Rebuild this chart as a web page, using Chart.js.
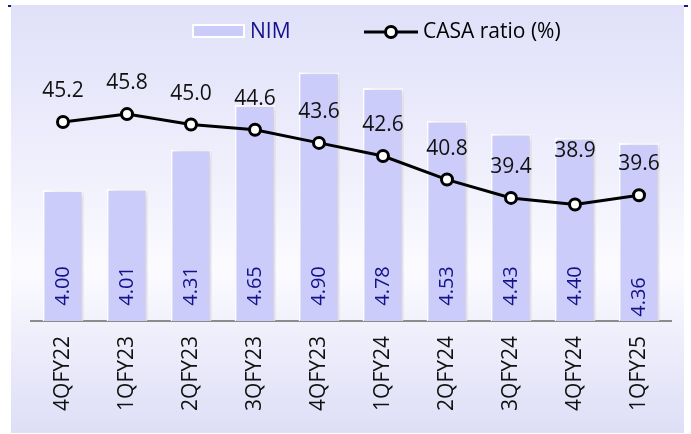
<!DOCTYPE html>
<html>
<head>
  <title>NIM and CASA ratio</title>
  <style>
    html, body {
      margin: 0;
      padding: 0;
      background: #fff;
    }
    #chart-container {
      width: 691px;
      height: 434px;
    }
  </style>
</head>
<body>

  <div id="chart-container">
    <canvas id="nimChart" width="691" height="434"></canvas>
  </div>

  <script src="https://cdn.jsdelivr.net/npm/chart.js"></script>

  <script>
    const quarters = ['4QFY22', '1QFY23', '2QFY23', '3QFY23', '4QFY23', '1QFY24', '2QFY24', '3QFY24', '4QFY24', '1QFY25'];
    const nim = [4.00, 4.01, 4.31, 4.65, 4.90, 4.78, 4.53, 4.43, 4.40, 4.36];
    const casaRatio = [45.2, 45.8, 45.0, 44.6, 43.6, 42.6, 40.8, 39.4, 38.9, 39.6];

    const FONT = '"Open Sans", Arial, sans-serif';
    const BAR_FILL = 'rgb(204, 204, 250)';
    const NAVY = '#12128c';

    // panel background with soft lavender gradient
    const panelBackground = {
      id: 'panelBackground',
      beforeDraw(chart) {
        const ctx = chart.ctx;
        ctx.save();
        const g = ctx.createLinearGradient(0, 5, 0, 433);
        g.addColorStop(0, '#e0e0f9');
        g.addColorStop(0.35, '#eeeefc');
        g.addColorStop(0.62, '#fbfbff');
        g.addColorStop(0.78, '#eeeefb');
        g.addColorStop(1, '#dedef7');
        ctx.fillStyle = g;
        ctx.fillRect(11, 5, 673, 428);
        ctx.fillStyle = '#1a1a80';
        ctx.fillRect(8, 5, 3, 2);
        ctx.fillRect(684, 5, 4, 2);
        ctx.restore();
      }
    };

    // soft shadow to the right of the bars
    const barShadow = {
      id: 'barShadow',
      beforeDatasetDraw(chart, args) {
        if (args.meta.type !== 'bar') return;
        const ctx = chart.ctx;
        ctx.save();
        ctx.shadowColor = 'rgba(0, 0, 0, 0.16)';
        ctx.shadowBlur = 8;
        ctx.shadowOffsetX = 4;
        ctx.shadowOffsetY = 1;
      },
      afterDatasetDraw(chart, args) {
        if (args.meta.type !== 'bar') return;
        chart.ctx.restore();
      }
    };

    // value labels: rotated inside the bars, above the line points
    const valueLabels = {
      id: 'valueLabels',
      afterDatasetsDraw(chart) {
        const ctx = chart.ctx;
        const base = chart.chartArea.bottom;
        ctx.save();

        const barMeta = chart.getDatasetMeta(0);
        ctx.font = '20px ' + FONT;
        ctx.fillStyle = NAVY;
        ctx.textAlign = 'center';
        ctx.textBaseline = 'middle';
        barMeta.data.forEach((bar, i) => {
          const lift = i === 9 ? 24 : 35;
          ctx.save();
          ctx.translate(bar.x, base - lift);
          ctx.rotate(-Math.PI / 2);
          ctx.fillText(nim[i].toFixed(2), 0, 0);
          ctx.restore();
        });

        const lineMeta = chart.getDatasetMeta(1);
        ctx.font = '21px ' + FONT;
        ctx.fillStyle = '#111';
        lineMeta.data.forEach((pt, i) => {
          const lift = i === 8 ? 53 : 31;
          ctx.fillText(casaRatio[i].toFixed(1), pt.x, pt.y - lift);
        });
        ctx.restore();
      }
    };

    // legend drawn by hand: bar swatch and line-with-marker
    const customLegend = {
      id: 'customLegend',
      afterDraw(chart) {
        const ctx = chart.ctx;
        ctx.save();
        ctx.fillStyle = BAR_FILL;
        ctx.fillRect(192, 24, 53, 14);
        ctx.strokeStyle = '#fff';
        ctx.lineWidth = 2;
        ctx.strokeRect(193, 25, 51, 12);

        ctx.font = '21px ' + FONT;
        ctx.textBaseline = 'middle';
        ctx.textAlign = 'left';
        ctx.fillStyle = NAVY;
        ctx.fillText('NIM', 250, 32);

        ctx.strokeStyle = '#000';
        ctx.lineWidth = 3;
        ctx.beginPath();
        ctx.moveTo(364, 32);
        ctx.lineTo(418, 32);
        ctx.stroke();
        ctx.beginPath();
        ctx.arc(391, 32, 5.5, 0, Math.PI * 2);
        ctx.fillStyle = '#fff';
        ctx.fill();
        ctx.stroke();

        ctx.fillStyle = '#000';
        ctx.fillText('CASA ratio (%)', 423, 32);
        ctx.restore();
      }
    };

    const ctx = document.getElementById('nimChart').getContext('2d');
    new Chart(ctx, {
      data: {
        labels: quarters,
        datasets: [
          {
            type: 'bar',
            label: 'NIM',
            data: nim,
            yAxisID: 'y',
            backgroundColor: BAR_FILL,
            borderColor: '#ffffff',
            borderWidth: 2,
            borderSkipped: 'bottom',
            categoryPercentage: 0.8,
            barPercentage: 0.8,
            order: 2
          },
          {
            type: 'line',
            label: 'CASA ratio (%)',
            data: casaRatio,
            yAxisID: 'y1',
            borderColor: '#000',
            borderWidth: 3,
            pointRadius: 5.5,
            pointBorderWidth: 3,
            pointBackgroundColor: '#fff',
            pointBorderColor: '#000',
            tension: 0,
            clip: false,
            order: 1
          }
        ]
      },
      options: {
        responsive: false,
        animation: false,
        devicePixelRatio: 1,
        layout: {
          padding: { left: 31, right: 20, top: 46, bottom: 0 }
        },
        plugins: {
          legend: { display: false },
          tooltip: { enabled: false }
        },
        scales: {
          x: {
            grid: { display: false, drawTicks: false },
            border: { display: true, color: '#8c8c8c', width: 2 },
            ticks: {
              autoSkip: false,
              maxRotation: 90,
              minRotation: 90,
              padding: 15,
              color: '#111',
              font: { family: FONT, size: 21 }
            },
            afterFit(scale) {
              scale.height = 113;
            }
          },
          y: {
            display: false,
            min: 3,
            max: 5.1
          },
          y1: {
            display: false,
            min: 30,
            max: 51
          }
        }
      },
      plugins: [panelBackground, barShadow, valueLabels, customLegend]
    });
  </script>

</body>
</html>
